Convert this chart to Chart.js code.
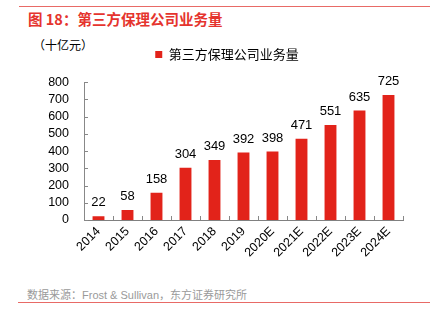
<!DOCTYPE html>
<html><head><meta charset="utf-8">
<script src="https://cdn.jsdelivr.net/npm/chart.js@4"></script>
<style>
html,body{margin:0;padding:0;background:#fff;}
#wrap{position:relative;width:440px;height:321px;overflow:hidden;font-family:"Liberation Sans","Noto Sans CJK SC",sans-serif;}
#c{position:absolute;left:0;top:0;}
.t{position:absolute;white-space:nowrap;}
.line{position:absolute;height:1px;background:#E86A66;}
</style></head>
<body><div id="wrap">
<div class="line" style="left:19px;top:6px;width:411px;"></div>
<div class="t" style="left:28px;top:8px;font-size:14.5px;font-weight:bold;color:#E5342E;font-family:'Noto Sans CJK SC',sans-serif;">图 18：第三方保理公司业务量</div>
<div class="t" style="left:33px;top:36px;font-size:12px;color:#000;font-family:'Noto Sans CJK SC',sans-serif;">（十亿元）</div>
<div class="t" style="left:27px;top:286px;font-size:11px;color:#9A9A9A;font-family:'Liberation Sans','Noto Sans CJK SC',sans-serif;">数据来源：Frost &amp; Sullivan，东方证券研究所</div>
<div class="line" style="left:18px;top:302px;width:412px;"></div>
<canvas id="c" width="440" height="321"></canvas>
</div>
<script>
const categories = ["2014","2015","2016","2017","2018","2019","2020E","2021E","2022E","2023E","2024E"];
const values = [22,58,158,304,349,392,398,471,551,635,725];
const yTicks = [0,100,200,300,400,500,600,700,800];
const seriesName = "第三方保理公司业务量";

const tickPlugin = {
  id:'tickPlugin',
  afterDraw(chart){
    const ctx = chart.ctx, x = chart.scales.x, y = chart.scales.y;
    ctx.save();
    ctx.strokeStyle = '#888'; ctx.lineWidth = 1;
    ctx.beginPath();
    yTicks.forEach(v=>{
      const py = Math.round(y.getPixelForValue(v))+0.5;
      ctx.moveTo(x.left, py); ctx.lineTo(x.left+4, py);
    });
    const n = categories.length;
    const w = (x.right - x.left)/n;
    for(let i=1;i<=n;i++){
      const px = Math.round(x.left + i*w)+0.5;
      ctx.moveTo(px, y.bottom); ctx.lineTo(px, y.bottom-4);
    }
    ctx.stroke();
    ctx.fillStyle = '#000';
    ctx.font = '13px "Liberation Sans", Arial, sans-serif';
    ctx.textAlign = 'center'; ctx.textBaseline = 'bottom';
    chart.getDatasetMeta(0).data.forEach((bar,i)=>{
      ctx.fillText(String(values[i]), bar.x, bar.y - 7);
    });
    ctx.restore();
  }
};

new Chart(document.getElementById('c'), {
  type:'bar',
  data:{labels:categories, datasets:[{label:seriesName, data:values, backgroundColor:'#E2231A', barPercentage:0.82, categoryPercentage:0.5}]},
  options:{
    responsive:false, animation:false,
    layout:{padding:{left:14,right:0,top:40,bottom:0}},
    plugins:{
      legend:{display:true, position:'top', weight:1000, labels:{boxWidth:7, boxHeight:7, color:'#000', padding:8, font:{size:13, family:'"Noto Sans CJK SC", sans-serif'}}},
      title:{display:true, text:'', weight:500, position:'top', font:{size:1}, padding:{top:0,bottom:10}},
      tooltip:{enabled:false}
    },
    scales:{
      x:{
        grid:{display:false, drawTicks:false},
        border:{display:true, color:'#808080'},
        ticks:{color:'#000', maxRotation:45, minRotation:45, autoSkip:false, padding:4, font:{size:12.5, family:'"Liberation Sans", Arial, sans-serif'}},
        afterFit(s){ s.height = 101; }
      },
      y:{
        min:0, max:800,
        grid:{display:false, drawTicks:false},
        border:{display:true, color:'#888'},
        ticks:{stepSize:100, autoSkip:false, color:'#000', padding:15, font:{size:12.5, family:'"Liberation Sans", Arial, sans-serif'}},
        afterFit(s){ s.width = 70; }
      },
      yRight:{
        position:'right', min:0, max:800, display:true,
        grid:{display:false, drawTicks:false},
        border:{display:false},
        ticks:{display:false},
        afterFit(s){ s.width = 37; }
      }
    }
  },
  plugins:[tickPlugin]
});
</script>
</body></html>
